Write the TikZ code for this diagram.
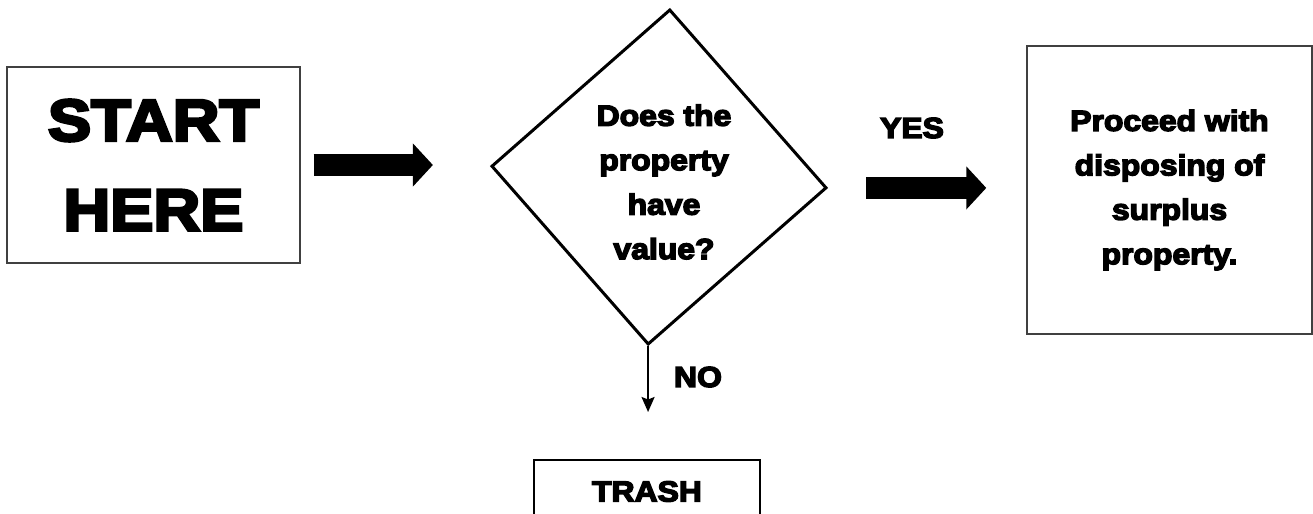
\documentclass[tikz,border=0pt]{standalone}
\usepackage{fontspec}
\usepackage{tikz}
\usetikzlibrary{shapes.geometric,arrows.meta}
\newfontfamily\blackfont{Liberation Sans Bold}[FakeStretch=1.1,FakeBold=5]

\begin{document}
\begin{tikzpicture}[x=0.02cm, y=-0.02cm]
    % Define styles for all nodes
    \tikzstyle{box} = [draw=black!75, line width=0.03cm, inner sep=0pt, align=center]
    \tikzstyle{decision} = [draw, diamond, line width=0.06cm, minimum width=6.72cm, minimum height=6.72cm, inner sep=0pt, aspect=1]
    \tikzstyle{txt} = [align=center, inner sep=0pt, font={\blackfont\fontsize{16.5}{25.3}\selectfont}]
    \tikzstyle{blockarrow} = [line width=0.44cm, -{Triangle[length=0.4cm, width=0.84cm]}]

    \clip (0,0) rectangle (1313,514);
    \useasboundingbox (0,0) rectangle (1313,514);

    % Nodes
    \node[box, minimum width=5.86cm, minimum height=3.92cm, font={\blackfont\fontsize{33.5}{51}\selectfont}] (start) at (153.5,165) {START\\HERE};
    \node[decision, rotate=-3.7] (dec) at (659,177) {};
    \node[txt] (question) at (664,182) {Does the\\property\\have\\value?};
    \node[box, txt, draw=black!75, line width=0.03cm, minimum width=5.7cm, minimum height=5.76cm] (proceed) at (1169.5,190) {Proceed with\\disposing of\\surplus\\property.};
    \node[box, txt, draw=black, line width=0.04cm, minimum width=4.52cm, minimum height=1.26cm] (trash) at (647,491.5) {TRASH};

    % Labels
    \node[txt] (yes) at (912,128) {YES};
    \node[txt] (no) at (698,377) {NO};

    % Edges with arrows
    \draw[blockarrow, shorten <=0.26cm, shorten >=1.14cm] (start.east) -- (start.east -| dec.west);
    \draw[blockarrow, shorten <=0.76cm, shorten >=0.8cm] (dec.east) -- (dec.east -| proceed.west);
    \draw[line width=0.04cm, -{Stealth[length=0.3cm, width=0.26cm, inset=0.05cm]}, shorten >=0.94cm] (dec.south) -- (dec.south |- trash.north);
\end{tikzpicture}
\end{document}
